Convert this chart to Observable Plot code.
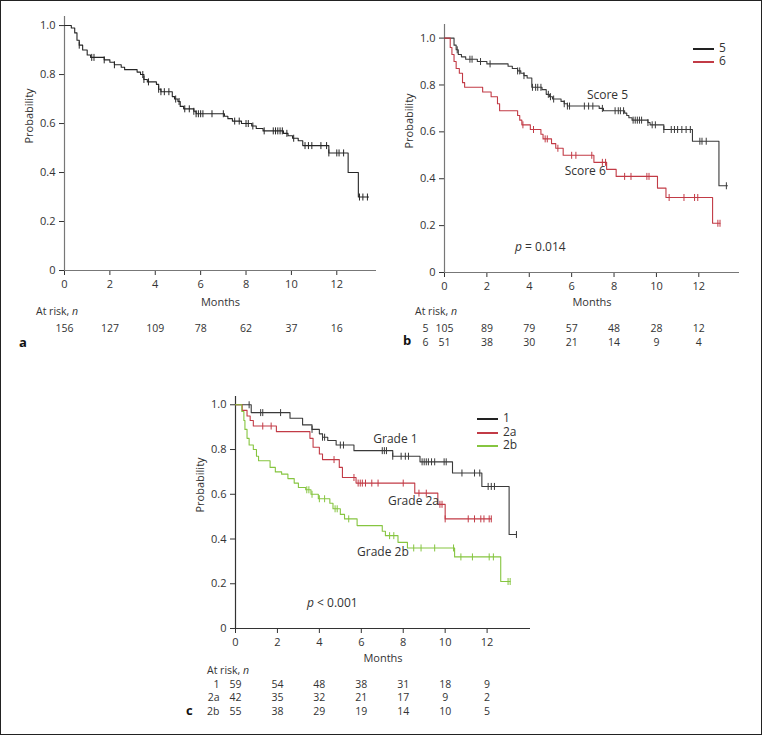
<!DOCTYPE html>
<html>
<head>
<meta charset="utf-8">
<script src="https://cdn.jsdelivr.net/npm/d3@7"></script>
<script src="https://cdn.jsdelivr.net/npm/@observablehq/plot@0.6"></script>
<style>
  html, body { margin: 0; padding: 0; background: #fff; }
  #fig { position: relative; width: 762px; height: 735px; font-family: "Open Sans", "Noto Sans", sans-serif; color: #333; overflow: hidden; }
  #frame { position: absolute; left: 0; top: 0; width: 762px; height: 735px; box-sizing: border-box; border: 1px solid #222; pointer-events: none; }
  .abs { position: absolute; white-space: nowrap; line-height: 16px; }
  .lab { font-size: 10.5px; line-height: 11px; }
  .letter { font-size: 13px; font-weight: bold; color: #111; }
  .pv { font-size: 12px; }
  .leg { position: absolute; font-size: 12px; line-height: 12px; }
  .leg span.sw { position: absolute; left: 0; top: 6px; width: 21px; height: 1.5px; }
  .leg span.tx { position: absolute; left: 26px; top: 0; }
</style>
</head>
<body>
<div id="fig">
  <div class="abs lab" style="left:36px;top:306px;">At risk, <i>n</i></div>
  <div class="abs lab" style="left:415px;top:306px;">At risk, <i>n</i></div>
  <div class="abs lab" style="left:207px;top:665px;">At risk, <i>n</i></div>
  <div class="abs letter" style="left:19px;top:334px;">a</div>
  <div class="abs letter" style="left:403px;top:332px;">b</div>
  <div class="abs letter" style="left:186px;top:702px;">c</div>
  <div class="abs pv" style="left:515px;top:239px;"><i>p</i> = 0.014</div>
  <div class="abs pv" style="left:307px;top:595px;"><i>p</i> &lt; 0.001</div>
  <div class="leg" style="left:693px;top:42px;"><span class="sw" style="background:#222"></span><span class="tx">5</span></div>
  <div class="leg" style="left:693px;top:55px;"><span class="sw" style="background:#c23b46"></span><span class="tx">6</span></div>
  <div class="leg" style="left:477px;top:412px;"><span class="sw" style="background:#222"></span><span class="tx">1</span></div>
  <div class="leg" style="left:477px;top:426px;"><span class="sw" style="background:#c23b46"></span><span class="tx">2a</span></div>
  <div class="leg" style="left:477px;top:439px;"><span class="sw" style="background:#86c540"></span><span class="tx">2b</span></div>
  <div id="frame"></div>
</div>
<script>
// ---------- data ----------
const xTicks = [0, 2, 4, 6, 8, 10, 12];
const yTicks = [0, 0.2, 0.4, 0.6, 0.8, 1.0];

// Panel a: all patients
const aTimes = [0, 0.3, 0.45, 0.55, 0.65, 0.8, 1.0, 1.15, 1.75, 2.0, 2.2, 2.5, 2.65, 3.2, 3.35, 3.5, 3.65, 4.05, 4.15, 4.25, 4.75, 4.85, 5.0, 5.1, 5.25, 5.7, 5.8, 7.05, 7.2, 7.4, 7.8, 8.25, 8.45, 8.75, 9.65, 9.85, 10.05, 10.3, 10.5, 11.65, 12.5, 12.95];
const aSurv  = [1.0, 0.99, 0.97, 0.94, 0.92, 0.90, 0.88, 0.87, 0.86, 0.85, 0.84, 0.83, 0.82, 0.81, 0.80, 0.78, 0.77, 0.76, 0.74, 0.73, 0.71, 0.70, 0.69, 0.67, 0.66, 0.65, 0.64, 0.63, 0.62, 0.61, 0.60, 0.59, 0.58, 0.57, 0.56, 0.55, 0.54, 0.53, 0.51, 0.48, 0.40, 0.30];
const aEnd = 13.4;
const aCensor = [0.65, 1.2, 1.3, 1.75, 2.2, 3.45, 3.5, 3.7, 4.15, 4.25, 4.4, 4.6, 4.9, 5.05, 5.3, 5.5, 5.7, 5.8, 5.9, 6.0, 6.1, 6.5, 7.0, 7.5, 7.7, 8.0, 8.1, 8.3, 8.8, 9.2, 9.3, 9.4, 9.5, 9.6, 9.8, 10.1, 10.6, 10.75, 10.9, 11.3, 11.55, 11.65, 12.0, 12.1, 12.3, 13.0, 13.15, 13.35];
const atRiskA = [156, 127, 109, 78, 62, 37, 16];

// Panel b: score 5 / score 6
const b5Times = [0, 0.45, 0.55, 0.65, 0.8, 1.0, 1.55, 2.0, 3.0, 3.2, 3.45, 3.6, 3.75, 3.9, 4.12, 4.6, 4.8, 4.95, 5.1, 5.5, 5.65, 5.8, 7.3, 7.5, 8.5, 8.6, 8.7, 8.85, 9.6, 9.7, 10.35, 11.7, 12.95];
const b5Surv  = [1.0, 0.97, 0.95, 0.93, 0.92, 0.91, 0.90, 0.89, 0.88, 0.87, 0.86, 0.85, 0.84, 0.83, 0.79, 0.78, 0.76, 0.75, 0.74, 0.73, 0.72, 0.71, 0.70, 0.69, 0.68, 0.67, 0.66, 0.65, 0.64, 0.63, 0.61, 0.56, 0.37];
const b5End = 13.35;
const b5Censor = [0.6, 1.2, 1.3, 1.7, 2.15, 3.45, 3.55, 3.75, 4.15, 4.3, 4.4, 4.55, 4.9, 5.0, 5.15, 5.65, 5.8, 5.9, 6.6, 6.8, 7.0, 7.45, 8.05, 8.2, 8.3, 8.45, 8.9, 9.0, 9.1, 9.2, 9.3, 9.6, 9.8, 9.95, 10.35, 10.7, 10.85, 11.0, 11.2, 11.4, 11.6, 12.05, 12.15, 12.35, 13.3];
const b6Times = [0, 0.27, 0.35, 0.45, 0.55, 0.7, 0.85, 0.95, 1.8, 2.2, 2.5, 2.6, 3.45, 3.55, 3.65, 4.05, 4.55, 4.65, 5.05, 5.25, 5.6, 7.05, 7.65, 8.1, 10.05, 10.45, 12.65];
const b6Surv  = [1.0, 0.96, 0.93, 0.90, 0.87, 0.85, 0.81, 0.79, 0.77, 0.75, 0.72, 0.69, 0.67, 0.65, 0.63, 0.61, 0.59, 0.57, 0.55, 0.53, 0.50, 0.47, 0.44, 0.41, 0.36, 0.32, 0.21];
const b6End = 13.0;
const b6Censor = [3.7, 4.2, 4.75, 4.85, 5.35, 6.0, 6.2, 6.95, 7.45, 7.6, 8.5, 8.8, 9.55, 9.65, 10.6, 11.3, 11.8, 11.95, 12.9, 13.0];
const atRiskB5 = [105, 89, 79, 57, 48, 28, 12];
const atRiskB6 = [51, 38, 30, 21, 14, 9, 4];

// Panel c: grade 1 / 2a / 2b
const c1Times = [0, 0.75, 2.6, 3.2, 3.65, 4.0, 4.15, 4.4, 4.8, 5.65, 7.5, 8.8, 10.35, 11.75, 13.05];
const c1Surv  = [1.0, 0.965, 0.94, 0.91, 0.89, 0.87, 0.855, 0.84, 0.82, 0.795, 0.77, 0.745, 0.695, 0.635, 0.42];
const c1End = 13.4;
const c1Censor = [0.65, 1.2, 1.3, 2.15, 3.65, 4.15, 4.25, 5.0, 5.15, 7.0, 7.1, 7.2, 7.5, 7.9, 8.1, 8.25, 8.9, 9.0, 9.1, 9.2, 9.35, 9.5, 9.95, 10.05, 10.8, 11.4, 11.65, 12.05, 12.2, 12.35, 13.4];
const c2aTimes = [0, 0.32, 0.55, 0.7, 0.85, 1.95, 3.55, 3.7, 4.0, 4.15, 4.95, 5.1, 5.75, 8.55, 9.65, 10.0];
const c2aSurv  = [1.0, 0.975, 0.95, 0.93, 0.905, 0.88, 0.85, 0.81, 0.78, 0.755, 0.72, 0.675, 0.65, 0.605, 0.555, 0.49];
const c2aEnd = 12.2;
const c2aCensor = [1.3, 1.7, 4.7, 5.65, 5.85, 5.95, 6.05, 6.2, 6.5, 6.8, 8.0, 8.75, 9.1, 9.75, 9.85, 10.0, 11.1, 11.4, 11.7, 11.85, 12.1, 12.2];
const c2bTimes = [0, 0.3, 0.4, 0.45, 0.55, 0.65, 0.85, 1.0, 1.1, 1.65, 1.9, 2.2, 2.5, 2.8, 3.0, 3.35, 3.6, 3.95, 4.5, 4.65, 5.0, 5.2, 5.8, 7.0, 7.15, 7.75, 8.2, 10.45, 12.65];
const c2bSurv  = [1.0, 0.97, 0.93, 0.89, 0.85, 0.82, 0.80, 0.77, 0.75, 0.72, 0.70, 0.69, 0.67, 0.65, 0.63, 0.62, 0.60, 0.58, 0.56, 0.535, 0.51, 0.49, 0.46, 0.435, 0.415, 0.385, 0.36, 0.32, 0.21];
const c2bEnd = 13.1;
const c2bCensor = [3.4, 3.5, 3.65, 4.0, 4.25, 4.75, 4.85, 5.4, 7.35, 7.55, 8.5, 8.85, 9.5, 10.4, 10.75, 11.3, 12.1, 12.3, 13.0, 13.1];
const atRiskC1 = [59, 54, 48, 38, 31, 18, 9];
const atRiskC2a = [42, 35, 32, 21, 17, 9, 2];
const atRiskC2b = [55, 38, 29, 19, 14, 10, 5];

// ---------- helpers ----------
const BLACK = "#262626", RED = "#c23b46", GREEN = "#86c540";
function stepAt(times, surv, t) {
  let v = surv[0];
  for (let i = 0; i < times.length; i++) if (times[i] <= t) v = surv[i];
  return v;
}
function curve(times, surv, end) {
  const pts = times.map((t, i) => ({t, s: surv[i]}));
  pts.push({t: end, s: surv[surv.length - 1]});
  return pts;
}
function censors(times, surv, cs) {
  return cs.map(t => ({t, s: stepAt(times, surv, t)}));
}
const vbar = {
  draw(ctx, size) {
    const h = Math.sqrt(size / Math.PI);
    ctx.moveTo(0, -h); ctx.lineTo(0, h);
  }
};
function kmMarks(times, surv, end, cs, color) {
  return [
    Plot.line(curve(times, surv, end), {x: "t", y: "s", curve: "step-after", stroke: color, strokeWidth: 1.1}),
    Plot.dot(censors(times, surv, cs), {x: "t", y: "s", symbol: vbar, r: 3.5, stroke: color, fill: "none", strokeWidth: 1})
  ];
}
function riskRow(values, dy, label, labelDx) {
  const marks = [Plot.text(values, {x: (d, i) => xTicks[i], text: d => String(d), frameAnchor: "bottom", dy, fontSize: 10.5, fill: "#333"})];
  if (label) marks.push(Plot.text([label], {x: 0, text: d => d, frameAnchor: "bottom", dy, dx: labelDx, textAnchor: "end", fontSize: 10.5, fill: "#333"}));
  return marks;
}
function annot(times, surv, t, label, dy) {
  return Plot.text([{t, s: stepAt(times, surv, t), label}], {x: "t", y: "s", text: "label", dy, fontSize: 12, fill: "#333"});
}
const yFmt = d => d === 0 ? "0" : d.toFixed(1);

function basePlot(opts, axisColor, marks, monthsDy) {
  return Plot.plot({
    width: opts.width, height: opts.height,
    marginLeft: opts.ml, marginRight: opts.mr, marginTop: opts.mt, marginBottom: opts.mb,
    style: {fontFamily: "Open Sans, Noto Sans, sans-serif", fontSize: "11px", color: "#333", background: "transparent", overflow: "visible"},
    x: {domain: [0, opts.xmax], ticks: xTicks, tickFormat: d => String(d), tickSize: 5, tickPadding: 5, label: null},
    y: {domain: [0, opts.ymax], ticks: yTicks, tickFormat: yFmt, tickSize: 5, label: null},
    marks: [
      Plot.ruleY([0], {stroke: axisColor, strokeWidth: 1.2}),
      Plot.ruleX([0], {stroke: axisColor, strokeWidth: 1.2}),
      ...marks,
      Plot.text(["Months"], {text: d => d, frameAnchor: "bottom", dy: monthsDy, fontSize: 11, fill: "#333"}),
      Plot.text(["Probability"], {text: d => d, frameAnchor: "left", dx: -35, rotate: -90, fontSize: 11, fill: "#333"})
    ]
  });
}

const fig = document.getElementById("fig");
function place(svg, left, top) {
  svg.style.position = "absolute";
  svg.style.left = left + "px";
  svg.style.top = top + "px";
  fig.insertBefore(svg, document.getElementById("frame"));
}

// Panel a
const pa = basePlot({width: 380, height: 355, ml: 64, mr: 4, mt: 16, mb: 85, xmax: 13.75, ymax: 1.037}, "#777", [
  ...kmMarks(aTimes, aSurv, aEnd, aCensor, BLACK),
  ...riskRow(atRiskA, 61)
], 35);
place(pa, 0, 0);

// Panel b
const pb = basePlot({width: 382, height: 355, ml: 64, mr: 23, mt: 24, mb: 83, xmax: 13.92, ymax: 1.058}, "#777", [
  ...kmMarks(b5Times, b5Surv, b5End, b5Censor, "#3a3a3a"),
  ...kmMarks(b6Times, b6Surv, b6End, b6Censor, RED),
  annot(b5Times, b5Surv, 7.69, "Score 5", -16),
  annot(b6Times, b6Surv, 6.64, "Score 6", 16),
  ...riskRow(atRiskB5, 59, "5", -16),
  ...riskRow(atRiskB6, 73, "6", -16)
], 33);
place(pb, 380, 0);

// Panel c
const pc = basePlot({width: 380, height: 365, ml: 45, mr: 40, mt: 36, mb: 97, xmax: 14.07, ymax: 1.037}, "#333", [
  ...kmMarks(c1Times, c1Surv, c1End, c1Censor, "#3a3a3a"),
  ...kmMarks(c2aTimes, c2aSurv, c2aEnd, c2aCensor, RED),
  ...kmMarks(c2bTimes, c2bSurv, c2bEnd, c2bCensor, GREEN),
  annot(c1Times, c1Surv, 7.63, "Grade 1", -17),
  annot(c2aTimes, c2aSurv, 8.49, "Grade 2a", 18),
  annot(c2bTimes, c2bSurv, 7.03, "Grade 2b", 21),
  ...riskRow(atRiskC1, 59, "1", -16),
  ...riskRow(atRiskC2a, 72.5, "2a", -16),
  ...riskRow(atRiskC2b, 86, "2b", -16)
], 33);
place(pc, 190, 360);
</script>
</body>
</html>
